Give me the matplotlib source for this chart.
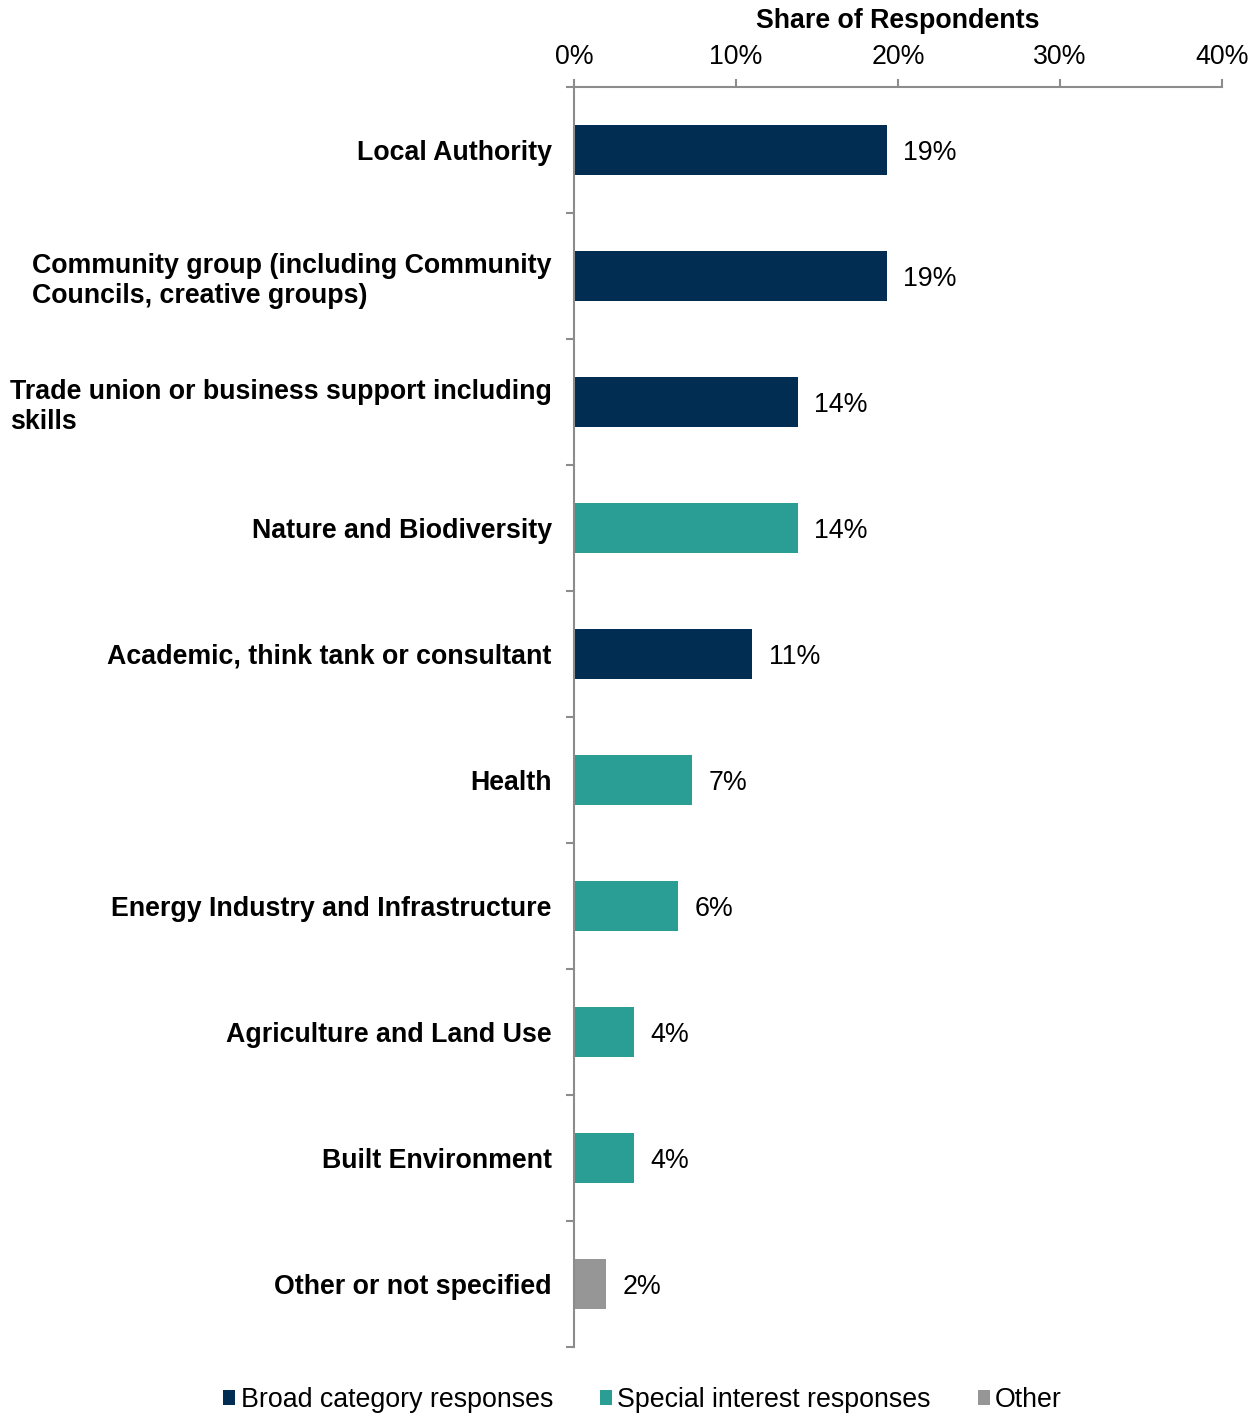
import matplotlib
matplotlib.use("Agg")
import matplotlib.pyplot as plt
from matplotlib.patches import Patch

plt.rcParams['font.family'] = ['Liberation Sans', 'DejaVu Sans']

categories = [
    "Local Authority",
    "Community group (including Community\nCouncils, creative groups)",
    "Trade union or business support including\nskills",
    "Nature and Biodiversity",
    "Academic, think tank or consultant",
    "Health",
    "Energy Industry and Infrastructure",
    "Agriculture and Land Use",
    "Built Environment",
    "Other or not specified",
]
shares = [19.3, 19.3, 13.8, 13.8, 11.0, 7.3, 6.4, 3.7, 3.7, 2.0]
groups = ["broad", "broad", "broad", "special", "broad",
          "special", "special", "special", "special", "other"]

group_colors = {"broad": "#022d52", "special": "#2a9d94", "other": "#969696"}
group_names = {"broad": "Broad category responses",
               "special": "Special interest responses",
               "other": "Other"}
x_ticks = [0, 10, 20, 30, 40]

FS = 19.3

fig = plt.figure(figsize=(12.6, 14.13), dpi=100)
ax = fig.add_axes([574 / 1260, 1 - 1347 / 1413, 648 / 1260, 1260 / 1413])

ypos = list(range(len(categories)))
colors = [group_colors[g] for g in groups]
ax.barh(ypos, shares, height=0.4, color=colors)

for y, v in zip(ypos, shares):
    ax.annotate(f"{v:.0f}%", xy=(v, y), xytext=(12, -2), textcoords="offset points",
                va="center", ha="left", fontsize=FS, color="black")

ax.set_xlim(0, 40)
ax.set_ylim(len(categories) - 0.5, -0.5)
ax.xaxis.tick_top()
ax.xaxis.set_label_position("top")
ax.set_xticks(x_ticks)
ax.set_xticklabels([f"{t}%" for t in x_ticks], fontsize=FS)
ax.set_xlabel("Share of Respondents", fontsize=FS, fontweight="bold", labelpad=12)

# category labels centred on bars, ticks at the band boundaries
ax.set_yticks(ypos)
ax.set_yticklabels(categories, fontsize=FS, fontweight="bold", multialignment="left")
ax.tick_params(axis="y", which="major", length=0, pad=16)
ax.set_yticks([i - 0.5 for i in range(len(categories) + 1)], minor=True)
ax.tick_params(axis="y", which="minor", length=6, width=1.5, color="#8c8c8c", direction="out")
ax.tick_params(axis="x", length=6, width=1.5, color="#8c8c8c", direction="out", pad=6)

for side in ["right", "bottom"]:
    ax.spines[side].set_visible(False)
for side in ["left", "top"]:
    ax.spines[side].set_color("#8c8c8c")
    ax.spines[side].set_linewidth(1.5)

handles = [Patch(facecolor=group_colors[k], label=group_names[k]) for k in ["broad", "special", "other"]]
fig.legend(handles=handles, loc="lower center", bbox_to_anchor=(0.51, -0.017), ncol=3,
           frameon=False, fontsize=FS, handlelength=0.45, handleheight=0.45,
           handletextpad=0.2, columnspacing=1.75)

fig.savefig("out.png", dpi=100, facecolor="white")
